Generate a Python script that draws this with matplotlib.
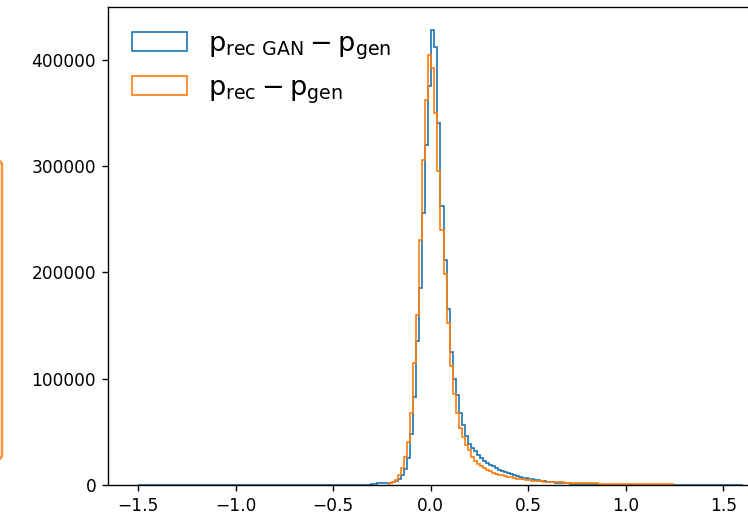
import numpy as np
import matplotlib
matplotlib.use('Agg')
import matplotlib.pyplot as plt
from matplotlib.patches import FancyBboxPatch
from matplotlib.ticker import MultipleLocator

# histogram binning (200 bins over the blue range)
n_bins = 200
bin_lo, bin_hi = -1.5, 1.6

# bin counts; first non-empty bin index given separately
gan_first = 77
gan_counts = [800, 1200, 1500, 1600, 1700, 1900, 2200, 2800, 3800, 5500,
              9000, 15000, 25000, 48000, 83000, 135000, 185000, 256000, 320000, 375000,
              428000, 412000, 340000, 262000, 212000, 165000, 125000, 100000, 85000, 68000,
              56000, 46000, 39000, 35000, 31500, 28000, 25500, 23000, 21000, 19000,
              17500, 16000, 14500, 13200, 12000, 11000, 10000, 9200, 8400, 7700,
              7000, 6400, 5900, 5400, 4900, 4500, 4100, 3500, 3100, 2800,
              2500, 2200, 2000, 1800, 1600, 1450, 1300, 1200, 1100, 1000,
              900, 800, 700, 600, 500, 450, 400, 350, 300, 250,
              200, 150, 120, 100, 80, 60, 50, 40, 30, 20]

rec_first = 83
rec_counts = [1500, 2500, 5000, 9000, 16000, 26000, 40000, 68000, 115000, 160000,
              230000, 306000, 362000, 404000, 392000, 350000, 295000, 240000, 198000, 152000,
              112000, 86000, 68000, 54000, 45000, 38000, 33000, 26000, 22500, 19500,
              17500, 15700, 14200, 12800, 11500, 10500, 9700, 9000, 8300, 7700,
              7100, 6600, 6100, 5600, 5200, 4800, 4400, 4100, 3800, 3600,
              3400, 3200, 3100, 3000, 3000, 2900, 2800, 2600, 2300, 2200,
              2200, 2100, 2100, 2000, 2000, 1900, 1900, 1800, 1800, 1100,
              1000, 1000, 950, 950, 900, 900, 900, 850, 850, 850,
              800, 800, 800, 800, 750, 750, 750, 700, 700, 700,
              700, 650, 650, 650]

labels = [r'$\mathrm{p_{rec\ GAN} - p_{gen}}$', r'$\mathrm{p_{rec} - p_{gen}}$']

edges = np.linspace(bin_lo, bin_hi, n_bins + 1)
centers = 0.5 * (edges[:-1] + edges[1:])

gan = np.zeros(n_bins)
gan[gan_first:gan_first + len(gan_counts)] = gan_counts
rec_edges = edges[rec_first:rec_first + len(rec_counts) + 1]
rec_centers = centers[rec_first:rec_first + len(rec_counts)]

dpi = 122
fig = plt.figure(figsize=(748 / dpi, 515 / dpi), dpi=dpi)
ax = fig.add_axes([108 / 748, 30 / 515, 665 / 748, 478 / 515])

ax.hist(centers, bins=edges, weights=gan, histtype='step', color='C0', label=labels[0])
ax.hist(rec_centers, bins=rec_edges, weights=rec_counts, histtype='step', color='C1', label=labels[1])
ax.set_xlim(bin_lo - 0.05 * (bin_hi - bin_lo), bin_hi + 0.05 * (bin_hi - bin_lo))
ax.yaxis.set_major_locator(MultipleLocator(100000))

ax.legend(loc='upper left', frameon=False, fontsize=16)

# orange cell marker at the left edge of the screenshot
fig.patches.append(FancyBboxPatch((-20 / 748, 55 / 515), 22 / 748, 300 / 515,
                                  boxstyle='round,pad=0,rounding_size=0.01',
                                  transform=fig.transFigure, fill=False,
                                  edgecolor='#f7943c', linewidth=1.5))

fig.savefig('out.png', dpi=dpi)
